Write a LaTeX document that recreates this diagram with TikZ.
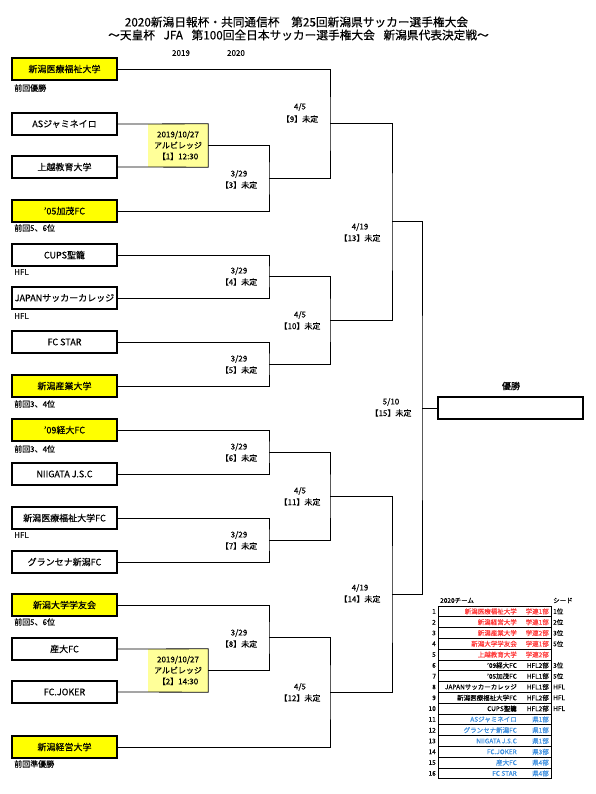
\documentclass[tikz,border=0pt]{standalone}
\usepackage{fontspec}
\setmainfont{Noto Sans CJK JP}[FakeBold=0.3]
\definecolor{tyel}{HTML}{FFFF00}
\definecolor{myel}{HTML}{FFFF99}
\definecolor{tred}{HTML}{FF3B3B}
\definecolor{tblue}{HTML}{3D8FE0}
\begin{document}
\begin{tikzpicture}[x=1pt,y=-1pt,
  team/.style={draw,line width=1.1pt,minimum width=105pt,minimum height=22pt,inner sep=0pt,font=\fontsize{9}{10}\selectfont},
  seedteam/.style={team,fill=tyel},
  note/.style={anchor=west,inner sep=0pt,font=\fontsize{8}{9}\selectfont},
  br/.style={line width=0.8pt},
  rlab/.style={inner sep=0pt,font=\fontsize{8}{9}\selectfont},
  mbox/.style={fill=myel,minimum width=60pt,minimum height=43pt,inner sep=0pt,align=center,font=\fontsize{8}{11}\selectfont},
  trow/.style={draw,line width=0.9pt,minimum width=113pt,minimum height=10.8pt,inner sep=0pt},
  tnum/.style={anchor=east,inner sep=0pt,font=\fontsize{6.5}{7}\selectfont},
  tname/.style={anchor=east,inner sep=0pt,font=\fontsize{6.5}{7}\selectfont},
  tseed/.style={anchor=west,inner sep=0pt,font=\fontsize{6.5}{7}\selectfont}]
\useasboundingbox (0,0) rectangle (595,794);
\fill[white] (0,0) rectangle (595,794);
% titles
\node[inner sep=0pt,font=\fontsize{11.7}{13}\selectfont] (title1) at (296.5,22) {2020新潟日報杯・共同通信杯　第25回新潟県サッカー選手権大会};
\node[inner sep=0pt,font=\fontsize{11.7}{13}\selectfont] (title2) at (298.5,35) {〜天皇杯\hspace{6pt} JFA\hspace{6pt} 第100回全日本サッカー選手権大会\hspace{6pt} 新潟県代表決定戦〜};
\node[rlab] (y2019) at (181,53) {2019};
\node[rlab] (y2020) at (236,53) {2020};
% match boxes round 1
\node[mbox] (g1) at (178,145.5) {2019/10/27\\アルビレッジ\\【1】12:30};
\node[mbox] (g2) at (178,670.5) {2019/10/27\\アルビレッジ\\【2】14:30};
% teams
\node[seedteam] (t1) at (64.5,69) {新潟医療福祉大学};
\node[team] (t2) at (64.5,124) {ASジャミネイロ};
\node[team] (t3) at (64.5,167) {上越教育大学};
\node[seedteam] (t4) at (64.5,211) {’05加茂FC};
\node[team] (t5) at (64.5,255) {CUPS聖籠};
\node[team] (t6) at (64.5,298) {JAPANサッカーカレッジ};
\node[team] (t7) at (64.5,342) {FC STAR};
\node[seedteam] (t8) at (64.5,386) {新潟産業大学};
\node[seedteam] (t9) at (64.5,430) {’09経大FC};
\node[team] (t10) at (64.5,474) {NIIGATA J.S.C};
\node[team] (t11) at (64.5,518) {新潟医療福祉大学FC};
\node[team] (t12) at (64.5,562) {グランセナ新潟FC};
\node[seedteam] (t13) at (64.5,605) {新潟大学学友会};
\node[team] (t14) at (64.5,649) {産大FC};
\node[team] (t15) at (64.5,692) {FC.JOKER};
\node[seedteam] (t16) at (64.5,747) {新潟経営大学};
% notes
\node[note] (n1) at (14,88) {前回優勝};
\node[note] (n4) at (14,228) {前回5、6位};
\node[note] (n5) at (14,272) {HFL};
\node[note] (n6) at (14,316) {HFL};
\node[note] (n8) at (14,404) {前回3、4位};
\node[note] (n9) at (14,449) {前回3、4位};
\node[note] (n11) at (14,535) {HFL};
\node[note] (n13) at (14,622) {前回5、6位};
\node[note] (n16) at (14,764) {前回準優勝};
% junctions
\coordinate (j3) at (269,178.25);
\coordinate (j9) at (330,123.6);
\coordinate (j4) at (269,276.5);
\coordinate (j5) at (269,364);
\coordinate (j10) at (330,320.25);
\coordinate (j13) at (392,221.9);
\coordinate (j6) at (269,452);
\coordinate (j7) at (269,540);
\coordinate (j11) at (330,496);
\coordinate (j8) at (269,637.75);
\coordinate (j12) at (330,692.4);
\coordinate (j14) at (392,594.2);
\coordinate (j15) at (422,408);
% final
\node[draw,line width=1.6pt,minimum width=145pt,minimum height=22pt,inner sep=0pt] (final) at (510.5,408) {};
\node[inner sep=0pt,font=\fontsize{9}{10}\selectfont] (winlab) at (511,386) {優勝};
% brackets
\draw[br] (t2.east) -- (g1.north east) -- (g1.south east) -- (t3.east);
\draw[br] (g1.east) -| (j3) |- (t4.east);
\draw[br] (t1.east) -| (j9) |- (j3);
\draw[br] (t5.east) -| (j4) |- (t6.east);
\draw[br] (t7.east) -| (j5) |- (t8.east);
\draw[br] (j4) -| (j10) |- (j5);
\draw[br] (j9) -| (j13) |- (j10);
\draw[br] (t9.east) -| (j6) |- (t10.east);
\draw[br] (t11.east) -| (j7) |- (t12.east);
\draw[br] (j6) -| (j11) |- (j7);
\draw[br] (t14.east) -- (g2.north east) -- (g2.south east) -- (t15.east);
\draw[br] (t13.east) -| (j8) |- (g2.east);
\draw[br] (j8) -| (j12) |- (t16.east);
\draw[br] (j11) -| (j14) |- (j12);
\draw[br] (j13) -| (j15) |- (j14);
\draw[br] (j15) -- (final.west);
% round labels
\node[rlab] (d9) at (300,107) {4/5};   \node[rlab] (l9) at (300,119) {【9】未定};
\node[rlab] (d3) at (239,174) {3/29};  \node[rlab] (l3) at (239,185) {【3】未定};
\node[rlab] (d13) at (360,227) {4/19}; \node[rlab] (l13) at (360,238) {【13】未定};
\node[rlab] (d4) at (239,271) {3/29};  \node[rlab] (l4) at (239,282) {【4】未定};
\node[rlab] (d10) at (300,315) {4/5};  \node[rlab] (l10) at (300,326) {【10】未定};
\node[rlab] (d5) at (239,359) {3/29};  \node[rlab] (l5) at (239,370) {【5】未定};
\node[rlab] (d15) at (391,402) {5/10}; \node[rlab] (l15) at (391,413) {【15】未定};
\node[rlab] (d6) at (239,447) {3/29};  \node[rlab] (l6) at (239,458) {【6】未定};
\node[rlab] (d11) at (300,491) {4/5};  \node[rlab] (l11) at (300,502) {【11】未定};
\node[rlab] (d7) at (239,535) {3/29};  \node[rlab] (l7) at (239,546) {【7】未定};
\node[rlab] (d14) at (360,588) {4/19}; \node[rlab] (l14) at (360,599) {【14】未定};
\node[rlab] (d8) at (239,633) {3/29};  \node[rlab] (l8) at (239,644) {【8】未定};
\node[rlab] (d12) at (300,687) {4/5};  \node[rlab] (l12) at (300,698) {【12】未定};
% seed table
\node[tseed] (th1) at (440,600.5) {2020チーム};
\node[tseed] (th2) at (553,600.5) {シード};
\foreach \i/\nm/\ct/\sd/\col in {
  1/新潟医療福祉大学/学連1部/1位/tred,
  2/新潟経営大学/学連1部/2位/tred,
  3/新潟産業大学/学連2部/3位/tred,
  4/新潟大学学友会/学連1部/5位/tred,
  5/上越教育大学/学連2部//tred,
  6/’09経大FC/HFL2部/3位/black,
  7/’05加茂FC/HFL1部/5位/black,
  8/JAPANサッカーカレッジ/HFL1部/HFL/black,
  9/新潟医療福祉大学FC/HFL2部/HFL/black,
  10/CUPS聖籠/HFL2部/HFL/black,
  11/ASジャミネイロ/県1部//tblue,
  12/グランセナ新潟FC/県1部//tblue,
  13/NIIGATA J.S.C/県1部//tblue,
  14/FC.JOKER/県3部//tblue,
  15/産大FC/県4部//tblue,
  16/FC STAR/県4部//tblue}{
  \pgfmathsetmacro{\yy}{611.4+(\i-1)*10.8}
  \node[trow] (row\i) at (494.5,\yy) {};
  \node[tnum] (num\i) at (436,\yy) {\i};
  \node[tname,text=\col] (nm\i) at (517,\yy) {\nm};
  \node[tname,text=\col] (ct\i) at (549,\yy) {\ct};
  \node[tseed] (sd\i) at (553,\yy) {\sd};
}
\end{tikzpicture}
\end{document}
